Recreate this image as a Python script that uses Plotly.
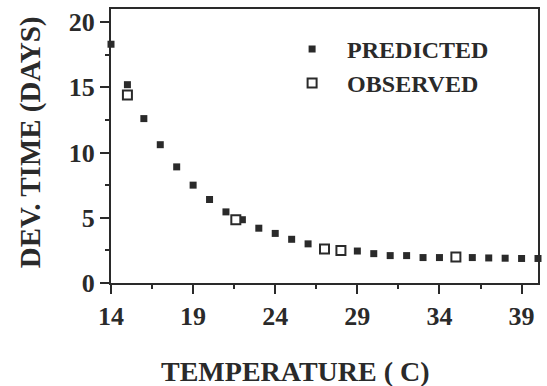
import plotly.graph_objects as go

# Predicted development time (days) by temperature (C)
pred_temp = [14, 15, 16, 17, 18, 19, 20, 21, 22, 23, 24, 25, 26, 27, 28, 29, 30, 31, 32, 33, 34, 35, 36, 37, 38, 39, 40]
pred_days = [18.3, 15.2, 12.6, 10.6, 8.9, 7.5, 6.4, 5.45, 4.85, 4.2, 3.8, 3.35, 3.0, 2.6, 2.5, 2.45, 2.25, 2.1, 2.1, 1.95, 1.95, 1.95, 1.95, 1.92, 1.9, 1.88, 1.88]

# Observed development time
obs_temp = [15, 21.6, 27, 28, 35]
obs_days = [14.4, 4.85, 2.6, 2.5, 2.0]

x_ticks = [14, 19, 24, 29, 34, 39]
y_ticks = [0, 5, 10, 15, 20]

ink = "#2a2a2a"
font_family = "Liberation Serif, Times New Roman, serif"

fig = go.Figure()
fig.add_trace(go.Scatter(
    x=pred_temp, y=pred_days, mode="markers", name="<b>PREDICTED</b>",
    marker=dict(symbol="square", size=7, color=ink),
    cliponaxis=False,
))
fig.add_trace(go.Scatter(
    x=obs_temp, y=obs_days, mode="markers", name="<b>OBSERVED</b>",
    marker=dict(symbol="square", size=9, color="white", line=dict(width=2, color=ink)),
    cliponaxis=False,
))

axis_common = dict(
    showline=True, linecolor=ink, linewidth=2, mirror=True,
    ticks="outside", ticklen=9, tickwidth=2, tickcolor=ink,
    showgrid=False, zeroline=False,
    tickfont=dict(family=font_family, size=26, color=ink, weight="bold"),
)

fig.update_xaxes(
    range=[14, 40], tickmode="array", tickvals=x_ticks,
    ticktext=[str(v) for v in x_ticks],
    minor=dict(ticks="outside", ticklen=4, tickwidth=2, tickcolor=ink, tick0=14, dtick=2.5, showgrid=False),
    **axis_common,
)
fig.update_yaxes(
    range=[0, 21], tickmode="array", tickvals=y_ticks,
    ticktext=[str(v) for v in y_ticks],
    minor=dict(ticks="outside", ticklen=4, tickwidth=2, tickcolor=ink, tick0=0, dtick=2.5, showgrid=False),
    **axis_common,
)

fig.update_layout(
    width=547, height=386,
    margin=dict(l=111, r=8, t=7, b=103),
    plot_bgcolor="white", paper_bgcolor="white",
    font=dict(family=font_family, color=ink),
    showlegend=True,
    legend=dict(
        x=0.389, y=0.935, xanchor="left", yanchor="top",
        bgcolor="rgba(0,0,0,0)", borderwidth=0,
        itemwidth=60,
        font=dict(family=font_family, size=24, color=ink),
        tracegroupgap=0,
    ),
    annotations=[
        dict(text="<b>TEMPERATURE ( C)</b>", xref="paper", yref="paper",
             x=(296 - 111) / 428, y=(283 - 372) / 276, xanchor="center", yanchor="middle",
             showarrow=False, font=dict(family=font_family, size=28, color=ink)),
        dict(text="<b>DEV. TIME (DAYS)</b>", xref="paper", yref="paper",
             x=(30 - 111) / 428, y=(283 - 141) / 276, xanchor="center", yanchor="middle",
             textangle=-90, showarrow=False, font=dict(family=font_family, size=29, color=ink)),
    ],
)

fig.write_html("out.html")
